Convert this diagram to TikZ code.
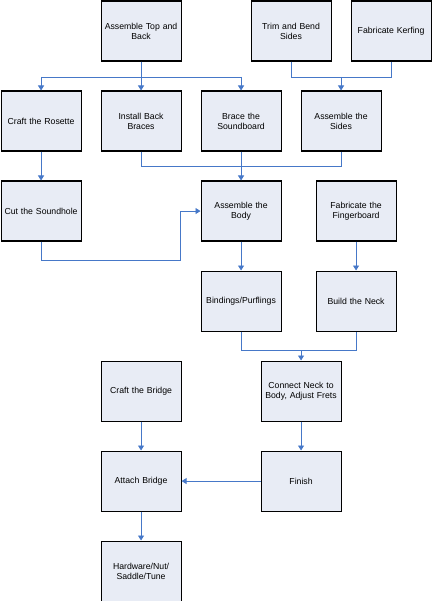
\documentclass[tikz,border=0pt]{standalone}
\usepackage{fontspec}
\setmainfont{Liberation Sans}
\usetikzlibrary{arrows.meta}
\definecolor{boxfill}{RGB}{232,236,245}
\definecolor{flow}{RGB}{70,120,200}
\begin{document}
\begin{tikzpicture}[x=1pt,y=-1pt,
  box/.style={draw=black,line width=1.1pt,fill=boxfill,minimum width=80pt,minimum height=60pt,
    inner sep=1pt,align=center,font=\fontsize{8.7}{10}\selectfont,text width=78pt,anchor=north west},
  conn/.style={draw=flow,line width=0.9pt},
  arr/.style={conn,-{Triangle[width=6pt,length=5pt]}}]
\useasboundingbox (0,0) rectangle (431,601);
\node[box] (topback) at (100.5,0.5) {Assemble Top and\\Back};
\node[box] (trim) at (250.5,0.5) {Trim and Bend\\Sides};
\node[box] (kerf) at (350.5,0.5) {Fabricate Kerfing};
\node[box] (rosette) at (0.5,90.5) {Craft the Rosette};
\node[box] (braces) at (100.5,90.5) {Install Back\\Braces};
\node[box] (sound) at (200.5,90.5) {Brace the\\Soundboard};
\node[box] (sides) at (300.5,90.5) {Assemble the\\Sides};
\node[box] (hole) at (0.5,180.5) {Cut the Soundhole};
\node[box] (body) at (200.5,180.5) {Assemble the\\Body};
\node[box] (finger) at (315.5,180.5) {Fabricate the\\Fingerboard};
\node[box] (bind) at (200.5,270.5) {Bindings/Purflings};
\node[box] (neck) at (315.5,270.5) {Build the Neck};
\node[box] (bridge) at (100.5,360.5) {Craft the Bridge};
\node[box] (connect) at (260.5,360.5) {Connect Neck to\\Body, Adjust Frets};
\node[box] (attach) at (100.5,450.5) {Attach Bridge};
\node[box] (finish) at (260.5,450.5) {Finish};
\node[box] (hw) at (100.5,540.5) {Hardware/Nut/\\Saddle/Tune};
% top and back fan-out
\draw[conn] (topback.south) -- (topback.south |- 0,77) -| (rosette.north |- 0,77);
\draw[conn] (topback.south |- 0,77) -| (sound.north |- 0,77);
\draw[arr] (rosette.north |- 0,77) -- (rosette.north);
\draw[arr] (topback.south) -- (braces.north);
\draw[arr] (sound.north |- 0,77) -- (sound.north);
% sides
\draw[conn] (trim.south) |- (kerf.south |- 0,77) -- (kerf.south);
\draw[arr] (sides.north |- 0,77) -- (sides.north);
% rosette -> hole
\draw[arr] (rosette.south) -- (hole.north);
% braces, soundboard, sides -> body
\draw[conn] (braces.south) |- (sides.south |- 0,166) -- (sides.south);
\draw[arr] (sound.south) -- (body.north);
% hole -> body
\draw[arr] (hole.south) -- (hole.south |- 0,260) -- (180.5,260) |- (body.west);
% body -> bindings, finger -> neck
\draw[arr] (body.south) -- (bind.north);
\draw[arr] (finger.south) -- (neck.north);
% bindings, neck -> connect
\draw[conn] (bind.south) |- (neck.south |- 0,350) -- (neck.south);
\draw[arr] (connect.north |- 0,350) -- (connect.north);
\draw[arr] (connect.south) -- (finish.north);
\draw[arr] (bridge.south) -- (attach.north);
\draw[arr] (finish.west) -- (attach.east);
\draw[arr] (attach.south) -- (hw.north);
\end{tikzpicture}
\end{document}
